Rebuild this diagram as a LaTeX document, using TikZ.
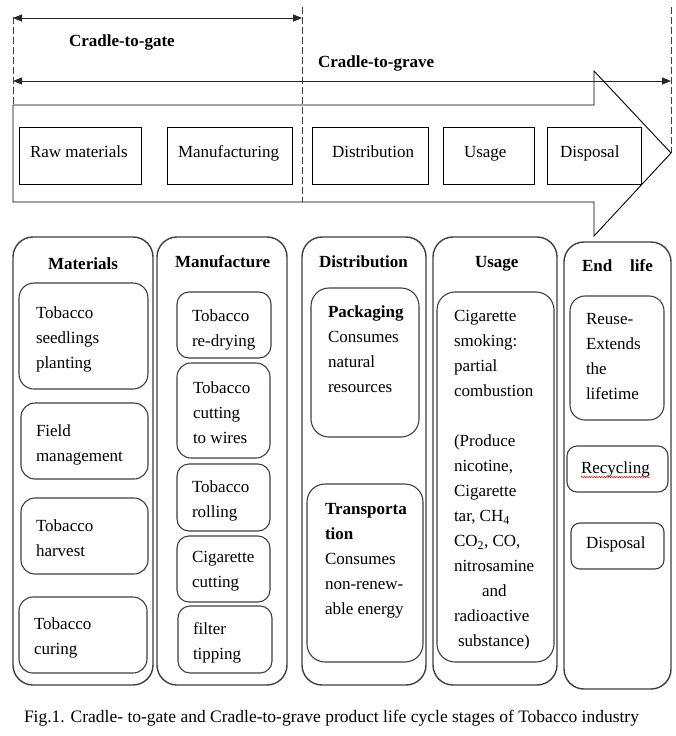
\documentclass[tikz,border=0pt]{standalone}
\usepackage{fontspec}
\setmainfont{Liberation Serif}
\usetikzlibrary{arrows.meta,decorations.pathmorphing}
\newcommand{\mkbox}[6]{\node[#2, anchor=north west, minimum width={(#5-#3)*1pt}, minimum height={(#6-#4)*1pt}] (#1) at (#3,#4) {};}
\begin{document}
\begin{tikzpicture}[x=1pt,y=-1pt,
  every node/.style={inner sep=0pt, outer sep=0pt},
  lbl/.style={font=\fontsize{17}{25}\selectfont, anchor=base west},
  ttl/.style={font=\fontsize{17}{25}\selectfont\bfseries, anchor=base west},
  txt/.style={font=\fontsize{17}{25}\selectfont, anchor=north west, align=left},
  stage/.style={draw=black, line width=0.9pt},
  col/.style={draw=black!75, line width=1.4pt, rounded corners=20pt},
  item/.style={draw=black!75, line width=1.1pt},
  dsh/.style={draw=black!75, dash pattern=on 7pt off 3pt, line width=1pt},
  span/.style={{Triangle[length=9pt,width=7pt]}-{Triangle[length=9pt,width=7pt]}, line width=0.9pt, draw=black!85}
]
\fill[white] (0,0) rectangle (676,736);
\useasboundingbox (0,0) rectangle (676,736);

% dashed boundaries
\coordinate (dL1) at (13,17);  \coordinate (dL2) at (13,105);
\coordinate (dM1) at (302,7);  \coordinate (dM2) at (302,202);
\coordinate (dR1) at (671,7);  \coordinate (dR2) at (671,153);
\draw[dsh] (dL1) -- (dL2);
\draw[dsh] (dM1) -- (dM2);
\draw[dsh] (dR1) -- (dR2);

% span arrows
\coordinate (g1) at (13,18); \coordinate (g2) at (302,18);
\coordinate (v1) at (13,81); \coordinate (v2) at (671,81);
\draw[span] (g1) -- (g2);
\draw[span] (v1) -- (v2);
\node[ttl] (cgate) at (69,46) {Cradle-to-gate};
\node[ttl] (cgrave) at (318,67) {Cradle-to-grave};

% big process arrow
\draw[line width=0.9pt] (13,105) -- (594,105) -- (594,71) -- (671,153) -- (594,236) -- (594,202) -- (13,202) -- cycle;

% stage boxes
\mkbox{sRaw}{stage}{19}{127}{141}{184}
\mkbox{sMan}{stage}{167}{127}{292}{184}
\mkbox{sDis}{stage}{312}{127}{428}{184}
\mkbox{sUse}{stage}{443}{127}{534}{184}
\mkbox{sDsp}{stage}{547}{127}{641}{184}
\node[lbl] (tRaw) at (30,157) {Raw materials};
\node[lbl] (tMan) at (178,157) {Manufacturing};
\node[lbl] (tDis) at (332,157) {Distribution};
\node[lbl] (tUse) at (464,157) {Usage};
\node[lbl] (tDsp) at (560,157) {Disposal};

% columns
\mkbox{cMat}{col}{13}{237}{153}{685}
\mkbox{cMan}{col}{157}{237}{287}{685}
\mkbox{cDis}{col}{302}{237}{426}{685}
\mkbox{cUse}{col}{433}{237}{557}{685}
\mkbox{cEnd}{col}{564}{242}{671}{689}
\node[ttl] (hMat) at (48,269) {Materials};
\node[ttl] (hMan) at (175,267) {Manufacture};
\node[ttl] (hDis) at (319,267) {Distribution};
\node[ttl] (hUse) at (475,267) {Usage};
\node[ttl] (hEnd) at (582,271) {End\hspace{18pt}life};

% materials items
\mkbox{m1}{item, rounded corners=15pt}{19}{283}{148}{389}
\mkbox{m2}{item, rounded corners=14pt}{21}{403}{148}{479}
\mkbox{m3}{item, rounded corners=14pt}{21}{498}{148}{574}
\mkbox{m4}{item, rounded corners=14pt}{19}{597}{147}{673}
\node[txt] (m1t) at (36,306.4) {Tobacco\\seedlings\\planting};
\node[txt] (m2t) at (36,424.4) {Field\\management};
\node[txt] (m3t) at (36,519.4) {Tobacco\\harvest};
\node[txt] (m4t) at (34,617.4) {Tobacco\\curing};

% manufacture items
\mkbox{n1}{item, rounded corners=12pt}{177}{292}{271}{358}
\mkbox{n2}{item, rounded corners=14pt}{177}{363}{270}{458}
\mkbox{n3}{item, rounded corners=12pt}{177}{464}{270}{531}
\mkbox{n4}{item, rounded corners=12pt}{177}{536}{270}{602}
\mkbox{n5}{item, rounded corners=12pt}{178}{606}{272}{673}
\node[txt] (n1t) at (192,309.4) {Tobacco\\re-drying};
\node[txt] (n2t) at (193,381.4) {Tobacco\\cutting\\to wires};
\node[txt] (n3t) at (192,480.4) {Tobacco\\rolling};
\node[txt] (n4t) at (192,551.4) {Cigarette\\cutting};
\node[txt] (n5t) at (193,622.4) {filter\\tipping};

% distribution items
\mkbox{d1}{item, rounded corners=18pt}{311}{288}{419}{437}
\mkbox{d2}{item, rounded corners=18pt}{307}{484}{423}{662}
\node[txt] (d1t) at (328,305.4) {\textbf{Packaging}\\Consumes\\natural\\resources};
\node[txt] (d2t) at (325,503.4) {\textbf{Transporta}\\\textbf{tion}\\Consumes\\non-renew-\\able energy};

% usage item
\mkbox{u1}{item, rounded corners=18pt}{437}{292}{554}{662}
\node[txt] (u1t) at (454,310.4) {Cigarette\\smoking:\\partial\\combustion\\[25pt](Produce\\nicotine,\\Cigarette\\tar, CH\textsubscript{4}\\CO\textsubscript{2}, CO,\\nitrosamine\\\hspace*{28pt}and\\radioactive\\\hspace*{4pt}substance)};

% end of life items
\mkbox{e1}{item, rounded corners=15pt}{570}{296}{664}{420}
\mkbox{e2}{item, rounded corners=10pt}{567}{446}{668}{492}
\mkbox{e3}{item, rounded corners=9pt}{571}{523}{664}{569}
\node[txt] (e1t) at (586,313.4) {Reuse-\\Extends\\the\\lifetime};
\node[lbl] (e2t) at (581,473) {Recycling};
\node[lbl] (e3t) at (586,548) {Disposal};
\draw[red, line width=0.5pt, decorate, decoration={snake, amplitude=0.7pt, segment length=2.5pt}] ([yshift=-4pt]e2t.base west) -- ([yshift=-4pt]e2t.base east);

% caption
\node[lbl, font=\fontsize{17.5}{20}\selectfont] (cap) at (24,722) {Fig.1. Cradle- to-gate and Cradle-to-grave product life cycle stages of Tobacco industry};
\end{tikzpicture}
\end{document}
